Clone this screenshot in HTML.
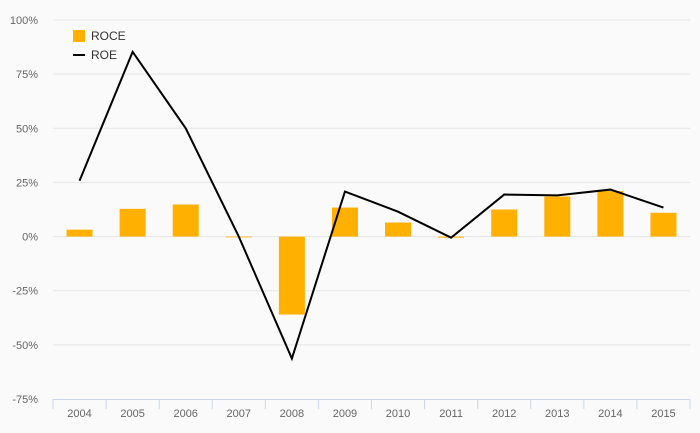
<!DOCTYPE html>
<html><head><meta charset="utf-8"><style>
body{margin:0;background:#fafafa;}
svg{display:block;font-family:"Liberation Sans",sans-serif;}
</style></head><body>
<svg id="chart" width="700" height="433" viewBox="0 0 700 433">
<rect width="700" height="433" fill="#fafafa"/>
<g id="grid"></g>
<g id="bars"></g>
<g id="line"></g>
<g id="xaxis"></g>
<g>
<g><rect x="73" y="30" width="12" height="12" fill="#ffb000"/><text x="91" y="40" font-size="12" fill="#333">ROCE</text></g>
<g><line x1="73" y1="55" x2="85" y2="55" stroke="#000" stroke-width="2"/><text x="91" y="59" font-size="12" fill="#333">ROE</text></g>
</g>
</svg>
<script>
const categories=["2004","2005","2006","2007","2008","2009","2010","2011","2012","2013","2014","2015"];
const roce=[3.2,12.8,14.8,0,-36,13.4,6.5,-0.5,12.5,18.5,21,11];
const roe=[25.8,85.3,50,0,-56.3,20.8,11.5,-0.5,19.4,19,21.7,13.4];
const yTicks=[100,75,50,25,0,-25,-50,-75];
const NS="http://www.w3.org/2000/svg";
const x0=53,x1=690,yTop=20,yBot=399,yMax=100,yMin=-75;
const step=(x1-x0)/categories.length;
const xc=i=>x0+step*(i+0.5);
const y=v=>yTop+(yMax-v)/(yMax-yMin)*(yBot-yTop);
function mk(t,a,p){const e=document.createElementNS(NS,t);for(const k in a)e.setAttribute(k,a[k]);p.appendChild(e);return e;}
const grid=document.getElementById('grid');
yTicks.forEach(v=>{
 if(v!==yMin){const l=mk('line',{x1:x0,x2:x1,y1:y(v),y2:y(v),stroke:'#e6e6e6','stroke-width':1},grid);
 
 }
 const t=mk('text',{x:38,y:y(v)+4,'text-anchor':'end','font-size':11,fill:'#666'},grid);
 t.textContent=v+'%';
 
 
});
const bars=document.getElementById('bars');
roce.forEach((v,i)=>{
 const r=mk('rect',{x:xc(i)-13,width:26,y:Math.min(y(v),y(0)),height:Math.max(Math.abs(y(v)-y(0)),0.8),fill:'#ffb000'},bars);
 
 
});
const lg=document.getElementById('line');
const p=mk('polyline',{points:roe.map((v,i)=>xc(i)+','+y(v)).join(' '),fill:'none',stroke:'#000','stroke-width':2,'stroke-linejoin':'miter'},lg);


const xa=document.getElementById('xaxis');
const al=mk('line',{x1:x0,x2:x1,y1:yBot+0.5,y2:yBot+0.5,stroke:'#ccd6eb'},xa);


for(let i=0;i<=categories.length;i++){
 const tk=mk('line',{x1:x0+step*i,x2:x0+step*i,y1:yBot,y2:yBot+10,stroke:'#ccd6eb'},xa);
 
 
}
categories.forEach((c,i)=>{
 const t=mk('text',{x:xc(i),y:417,'text-anchor':'middle','font-size':11,fill:'#666'},xa);
 t.textContent=c;
 
 
});
</script>
</body></html>
